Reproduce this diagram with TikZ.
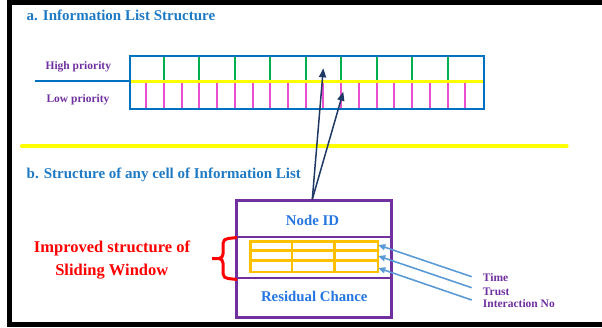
\documentclass[tikz,border=0pt]{standalone}
\usepackage{fontspec}
\setmainfont{Liberation Serif}
\usetikzlibrary{arrows.meta}
\definecolor{titleblue}{HTML}{1F7AC4}
\definecolor{nodeblue}{HTML}{2576E0}
\definecolor{listblue}{HTML}{0070C0}
\definecolor{grn}{HTML}{00B050}
\definecolor{pnk}{HTML}{E850D0}
\definecolor{ylw}{HTML}{FFFF00}
\definecolor{purp}{HTML}{7030A0}
\definecolor{orng}{HTML}{FFC000}
\definecolor{navyc}{HTML}{1F3864}
\definecolor{ltblue}{HTML}{5B9BD5}
\definecolor{redt}{HTML}{FF0000}
\begin{document}
\begin{tikzpicture}[x=1pt,y=-1pt,
  txt/.style={inner sep=0pt, font=\bfseries\fontsize{#1}{#1}\selectfont},
  heading/.style={txt=15, text=titleblue, anchor=base west},
  prio/.style={txt=11.5, text=purp, anchor=base},
  cellfont/.style={txt=14.8, text=nodeblue, anchor=base},
  sidelabel/.style={txt=11.5, text=purp, anchor=base west},
  redlabel/.style={txt=16.5, text=redt, anchor=base},
  cellbox/.style={draw=purp, line width=2.5pt, inner sep=0pt, minimum width=155pt, anchor=north west},
  navyarrow/.style={draw=navyc, line width=1.5pt, -{Triangle[length=9pt,width=7pt]}},
  bluearrow/.style={draw=ltblue, line width=1.6pt, -{Triangle[length=7pt,width=6pt]}}
]
\useasboundingbox (0,0) rectangle (602,327);
% frame
\fill[black] (7,0) rectangle (602,4.5);
\fill[black] (7,0) rectangle (11.5,327);
\fill[black] (7,322.3) rectangle (602,327);

% part a
\node[heading] (ta) at (26.5,20.7) {a. Information List Structure};
\node[prio] (high) at (78.3,69) {High priority};
\node[prio] (low) at (78,102.3) {Low priority};

\foreach \i in {1,...,19} {
  \draw[pnk, line width=2pt] (128.5+\i*17.725,81) -- (128.5+\i*17.725,107.7);
}
\foreach \i in {1,...,9} {
  \draw[grn, line width=2pt] (128.5+\i*35.45,55) -- (128.5+\i*35.45,81);
}
\draw[listblue, line width=2.5pt] (35,81) -- (128.5,81);
\draw[ylw, line width=3pt] (128.5,81) -- (483,81);
\node[draw=listblue, line width=2.2pt, inner sep=0pt, minimum width=354.5pt, minimum height=52.7pt, anchor=north west] (list) at (128.5,55) {};

% separator
\draw[ylw, line width=4pt, line cap=round] (22,146.3) -- (566.7,146.3);

% part b
\node[heading] (tb) at (26.5,178) {b. Structure of any cell of Information List};

\node[cellbox, minimum height=36.4pt] (idbox) at (235,199.3) {};
\node[cellbox, minimum height=41pt] (midbox) at (235,235.7) {};
\node[cellbox, minimum height=39.3pt] (resbox) at (235,276.7) {};
\node[cellfont] (nid) at (312.5,225.7) {Node ID};
\node[cellfont] (res) at (314.3,301.7) {Residual Chance};

% orange grid
\node[draw=orng, line width=2.5pt, inner sep=0pt, minimum width=127.4pt, minimum height=30.7pt, anchor=north west] (grid) at (249.3,240) {};
\draw[orng, line width=2.5pt] (249.3,250.3) -- (376.7,250.3) (249.3,260.5) -- (376.7,260.5)
  (291.8,240) -- (291.8,270.7) (334.3,240) -- (334.3,270.7);

% brace and red text
\draw[redt, line width=3pt, line join=round]
  (237,237.5) -- (228,238.5) to[out=180,in=90] (223,243.5) -- (223,254) to[out=-90,in=0] (219,258.5) -- (212,258.5)
  (219,258.5) to[out=0,in=90] (223,263) -- (223,273.5) to[out=-90,in=180] (228,278.5) -- (237,279.5);
\node[redlabel] (imp) at (112,252.7) {Improved structure of};
\node[redlabel] (slw) at (111.8,275) {Sliding Window};

% navy arrows
\coordinate (celltop) at (312.3,199.3);
\coordinate (hitarget) at (323.3,68.3);
\coordinate (lotarget) at (343.3,91.7);
\draw[navyarrow] (celltop) -- (hitarget);
\draw[navyarrow] (celltop) -- (lotarget);

% side labels
\node[sidelabel] (time) at (482.7,281.7) {Time};
\node[sidelabel] (trust) at (482.7,295) {Trust};
\node[sidelabel] (inter) at (482.7,307.3) {Interaction No};
\coordinate (s1) at (471.7,276.7);
\coordinate (s2) at (471.7,287.7);
\coordinate (s3) at (471.7,300);
\coordinate (e1) at (378.3,245);
\coordinate (e2) at (378.3,256);
\coordinate (e3) at (378.3,268);
\draw[bluearrow] (s1) -- (e1);
\draw[bluearrow] (s2) -- (e2);
\draw[bluearrow] (s3) -- (e3);
\end{tikzpicture}
\end{document}
